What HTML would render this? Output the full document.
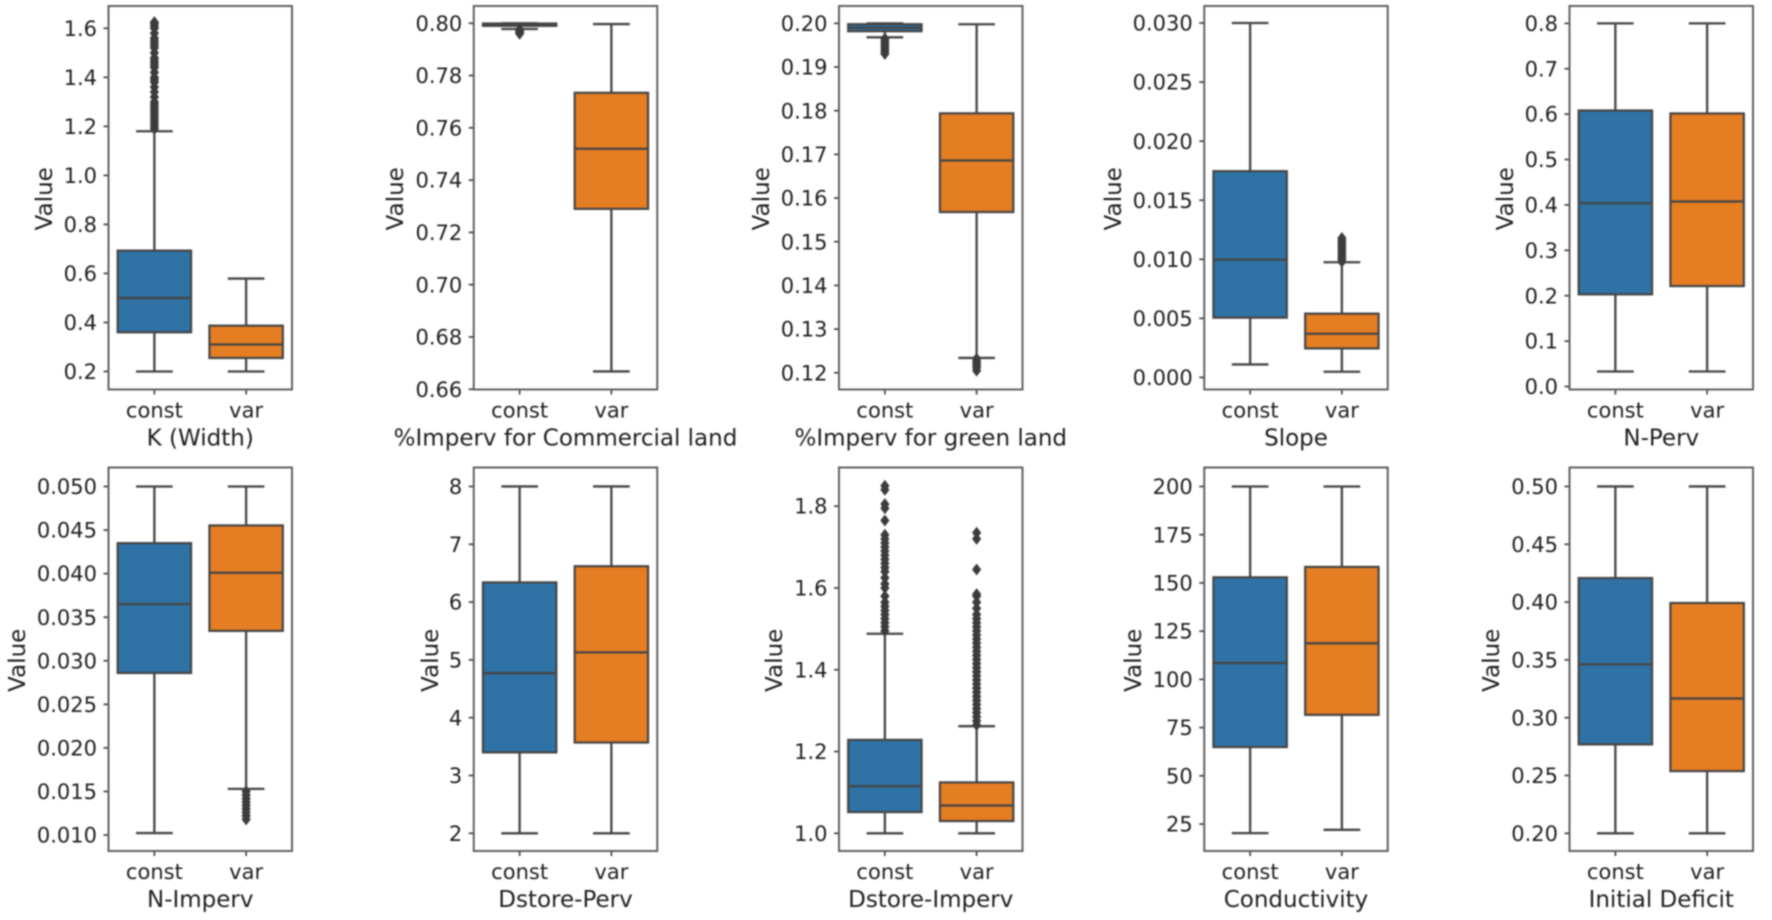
<!DOCTYPE html>
<html lang="en">
<head>
<meta charset="utf-8">
<title>Parameter distributions: const vs var</title>
<style>
html,body{margin:0;padding:0;background:#fff;width:1772px;height:920px;overflow:hidden}
svg{display:block;filter:blur(0.7px)}
text{font-family:"DejaVu Sans","Liberation Sans",sans-serif;fill:#1f1f1f;font-size:21px}
text.axis-title{font-size:23px}
</style>
</head>
<body>
<svg id="figure" xmlns="http://www.w3.org/2000/svg" width="1772" height="920" viewBox="0 0 1772 920"></svg>
<script>
const categories = ['const', 'var'];
const parameterNames = ['K (Width)', '%Imperv for Commercial land', '%Imperv for green land', 'Slope', 'N-Perv',
  'N-Imperv', 'Dstore-Perv', 'Dstore-Imperv', 'Conductivity', 'Initial Deficit'];
const tickLabels = [
  ['0.2','0.4','0.6','0.8','1.0','1.2','1.4','1.6'],
  ['0.66','0.68','0.70','0.72','0.74','0.76','0.78','0.80'],
  ['0.12','0.13','0.14','0.15','0.16','0.17','0.18','0.19','0.20'],
  ['0.000','0.005','0.010','0.015','0.020','0.025','0.030'],
  ['0.0','0.1','0.2','0.3','0.4','0.5','0.6','0.7','0.8'],
  ['0.010','0.015','0.020','0.025','0.030','0.035','0.040','0.045','0.050'],
  ['2','3','4','5','6','7','8'],
  ['1.0','1.2','1.4','1.6','1.8'],
  ['25','50','75','100','125','150','175','200'],
  ['0.20','0.25','0.30','0.35','0.40','0.45','0.50']
];
const yLimits = [
  [0.1265, 1.691], [0.6599, 0.8066], [0.11617, 0.20397], [-0.00102, 0.03144], [-0.0066, 0.8382],
  [0.00817, 0.05218], [1.694, 8.328], [0.9568, 1.8945], [11.02, 209.84], [0.1847, 0.5164]
];
/* five-number summaries: low whisker, q1, median, q3, high whisker */
const constStats = [
  [0.2, 0.36, 0.5, 0.693, 1.18],
  [0.7978, 0.799, 0.7995, 0.7999, 0.8],
  [0.1968, 0.1982, 0.199, 0.1998, 0.2],
  [0.0011, 0.00506, 0.00997, 0.01746, 0.03],
  [0.0331, 0.203, 0.404, 0.608, 0.8],
  [0.01023, 0.0286, 0.0365, 0.0435, 0.05],
  [2, 3.4, 4.77, 6.34, 8],
  [1, 1.052, 1.1155, 1.2285, 1.488],
  [20.3, 64.9, 108.5, 152.9, 200],
  [0.2, 0.2769, 0.3461, 0.4208, 0.5]
];
const varStats = [
  [0.2, 0.255, 0.31, 0.387, 0.579],
  [0.6668, 0.729, 0.752, 0.7734, 0.7997],
  [0.1234, 0.1568, 0.1686, 0.1794, 0.1998],
  [0.00048, 0.00246, 0.0037, 0.0054, 0.00975],
  [0.0331, 0.2212, 0.4075, 0.6015, 0.8],
  [0.0153, 0.03343, 0.0401, 0.04553, 0.05],
  [2, 3.57, 5.13, 6.62, 8],
  [1, 1.03, 1.068, 1.1245, 1.262],
  [22, 81.6, 118.7, 158.3, 200],
  [0.2, 0.2538, 0.3166, 0.3992, 0.5]
];
const constFliers = [
  [1.19,1.2,1.21,1.22,1.23,1.24,1.25,1.26,1.27,1.28,1.29,1.3,1.32,1.34,1.36,1.38,1.39,1.4,1.42,1.44,1.45,1.46,1.47,1.48,1.5,1.52,1.53,1.54,1.55,1.56,1.58,1.6,1.61,1.62,1.625],
  [0.7975,0.797,0.7965,0.796],
  [0.1965,0.196,0.1955,0.195,0.1945,0.194,0.1935,0.193],
  [], [], [], [],
  [1.495,1.505,1.515,1.525,1.535,1.545,1.555,1.565,1.58,1.6,1.61,1.625,1.64,1.65,1.66,1.67,1.68,1.69,1.7,1.71,1.72,1.73,1.765,1.795,1.805,1.84,1.85],
  [], []
];
const varFliers = [
  [],
  [],
  [0.1232,0.1227,0.1222,0.1217,0.1212,0.1205],
  [0.0098,0.0100,0.0102,0.0104,0.0106,0.0108,0.011,0.0112,0.0114,0.0116,0.0118],
  [],
  [0.015,0.0146,0.0142,0.0138,0.0134,0.013,0.0126,0.0122,0.0118],
  [],
  [1.265,1.275,1.285,1.295,1.305,1.315,1.325,1.335,1.345,1.355,1.365,1.375,1.385,1.395,1.405,1.415,1.425,1.435,1.445,1.455,1.465,1.475,1.485,1.495,1.505,1.515,1.525,1.535,1.55,1.565,1.58,1.585,1.645,1.72,1.735],
  [], []
];
const seriesColors = ['#2f72a6', '#e57d22'];
const yLabelCenters = [44, 395, 761, 1113, 1505, 17, 430, 774, 1133, 1491];

const svg = document.getElementById('figure');
const NS = 'http://www.w3.org/2000/svg';
const LINE = '#454545';
const PANEL_W = 183.5;
const PANEL_H = 383.5;

function mk(tag, parent, props) {
  const el = document.createElementNS(NS, tag);
  for (const k in props) el.setAttribute(k, props[k]);
  parent.appendChild(el);
  return el;
}

function linePart(parent, x1, y1, x2, y2, width, color) {
  return mk('line', parent, {x1: x1, y1: y1, x2: x2, y2: y2, stroke: color, 'stroke-width': width});
}

parameterNames.forEach(function (name, p) {
  const col = p % 5;
  const row = Math.floor(p / 5);
  const left = 108.5 + 365.25 * col;
  const top = row === 0 ? 6 : 467.5;
  const bottom = top + PANEL_H;
  const slug = name.toLowerCase().replace(/[^a-z]+/g, '-').replace(/^-|-$/g, '');

  const yScale = function (v) {
    const lim = yLimits[p];
    return bottom - (v - lim[0]) / (lim[1] - lim[0]) * PANEL_H;
  };
  const xScale = function (u) {
    return left + (u + 0.5) / categories.length * PANEL_W;
  };

  const g = mk('g', svg, {});
  
  

  /* series */
  [constStats, varStats].forEach(function (stats, s) {
    const st = stats[p];
    const cx = xScale(s);
    const bw = xScale(0.4) - xScale(0);
    const cw = xScale(0.2) - xScale(0);
    const series = mk('g', g, {});
    
    

    const whiskerLow = linePart(series, cx, yScale(st[1]), cx, yScale(st[0]), 2.3, LINE);
    
    
    const whiskerHigh = linePart(series, cx, yScale(st[3]), cx, yScale(st[4]), 2.3, LINE);
    
    
    const capLow = linePart(series, cx - cw, yScale(st[0]), cx + cw, yScale(st[0]), 2.3, LINE);
    
    
    const capHigh = linePart(series, cx - cw, yScale(st[4]), cx + cw, yScale(st[4]), 2.3, LINE);
    
    

    const rect = mk('rect', series, {
      x: cx - bw, y: yScale(st[3]), width: bw * 2, height: yScale(st[1]) - yScale(st[3]),
      fill: seriesColors[s], stroke: LINE, 'stroke-width': 2.2
    });
    
    

    const median = linePart(series, cx - bw, yScale(st[2]), cx + bw, yScale(st[2]), 2.3, LINE);
    
    

    const fliers = (s === 0 ? constFliers : varFliers)[p];
    fliers.forEach(function (v) {
      const fy = yScale(v);
      const d = mk('polygon', series, {
        points: [cx, fy - 6, cx + 4.6, fy, cx, fy + 6, cx - 4.6, fy].reduce(function (acc, n, i) {
          return acc + (i % 2 ? ',' : ' ') + n;
        }, '').trim(),
        fill: '#3c3c3c'
      });
      
      
    });

    const tick = linePart(g, cx, bottom, cx, bottom + 5, 1.7, '#444');
    
    
    const lab = mk('text', g, {x: cx, y: bottom + 28, 'text-anchor': 'middle'});
    lab.textContent = categories[s];
    
    
  });

  /* y axis */
  tickLabels[p].forEach(function (label) {
    const ty = yScale(parseFloat(label));
    const tick = linePart(g, left - 5, ty, left, ty, 1.7, '#444');
    
    
    const t = mk('text', g, {x: left - 11.5, y: ty + 7.6, 'text-anchor': 'end'});
    t.textContent = label;
    
    
  });

  /* frame */
  const frame = mk('rect', g, {x: left, y: top, width: PANEL_W, height: PANEL_H, fill: 'none', stroke: '#5a5a5a', 'stroke-width': 1.9});
  
  

  /* axis titles */
  const xt = mk('text', g, {x: left + PANEL_W / 2, y: bottom + 56, 'text-anchor': 'middle', 'class': 'axis-title'});
  xt.textContent = name;
  
  

  const ylx = yLabelCenters[p] + 8;
  const yly = (top + bottom) / 2 + 1;
  const yt = mk('text', g, {x: ylx, y: yly, 'text-anchor': 'middle', 'class': 'axis-title', transform: 'rotate(-90 ' + ylx + ' ' + yly + ')'});
  yt.textContent = 'Value';
  
  
});
</script>
</body>
</html>
